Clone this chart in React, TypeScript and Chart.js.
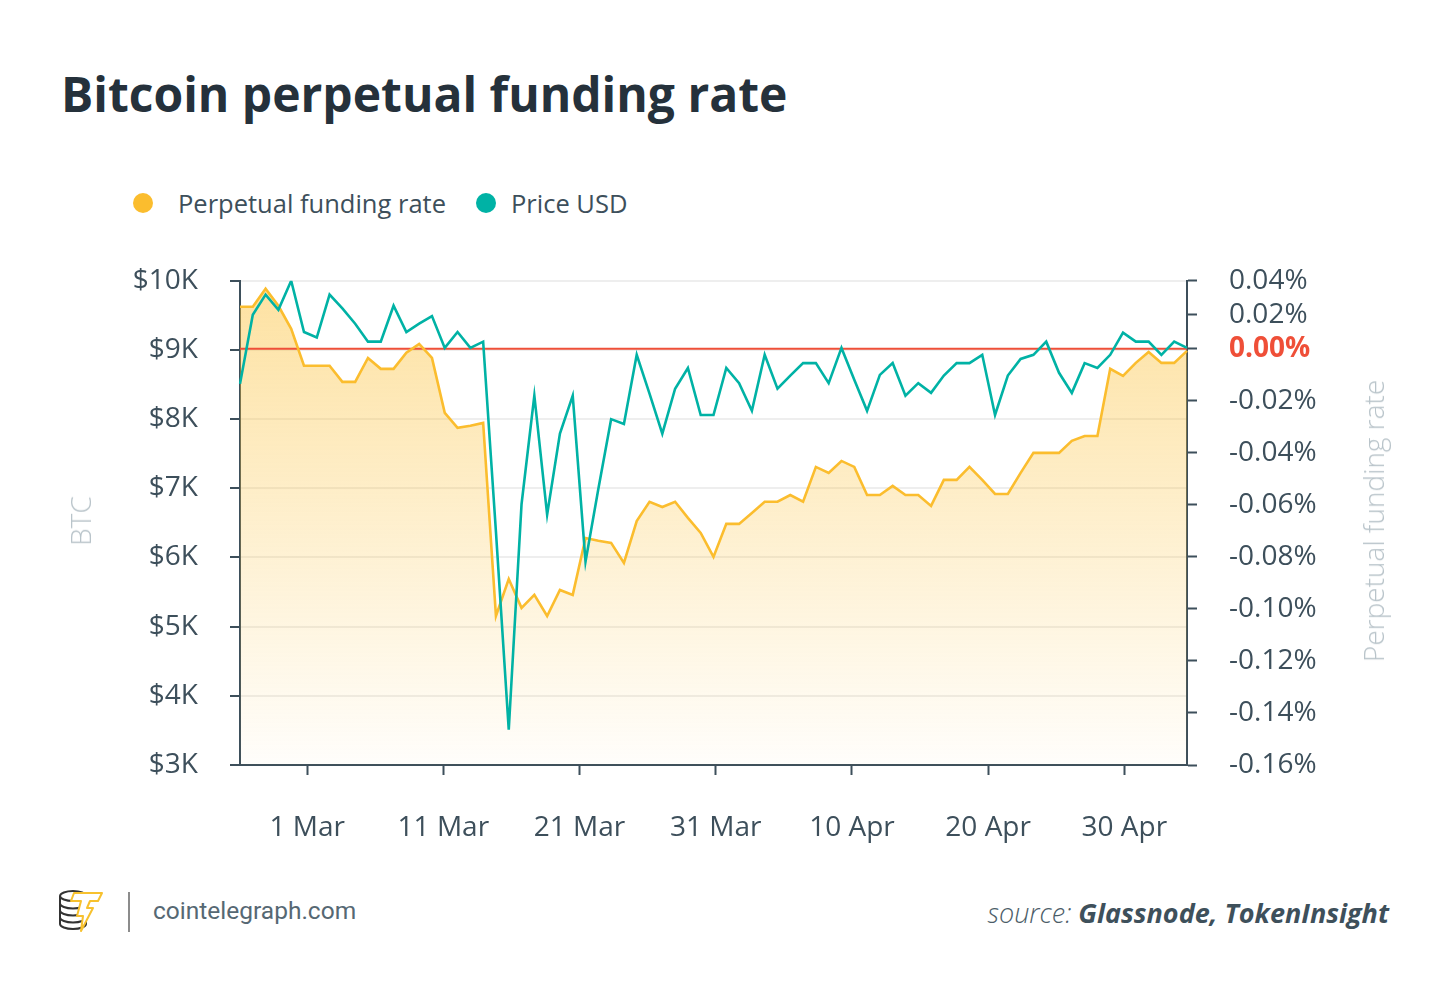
import React, { useEffect, useRef } from 'react';
import { Chart, registerables, LinearScale } from 'chart.js';

Chart.register(...registerables);

// Piecewise linear scale: positive and negative halves use their own spacing (as in the reference axis)
class SplitLinearScale extends LinearScale {
  static id = 'splitLinear';
  zeroPixel(): number {
    const frac = (this.options as any).zeroFraction ?? 0.5;
    return this.top + (this.bottom - this.top) * frac;
  }
  getPixelForValue(value: number): number {
    const z = this.zeroPixel();
    if (value >= 0) return z - (value / this.max) * (z - this.top);
    return z + (value / this.min) * (this.bottom - z);
  }
  getValueForPixel(pixel: number): number {
    const z = this.zeroPixel();
    if (pixel <= z) return ((z - pixel) / (z - this.top)) * this.max;
    return ((pixel - z) / (this.bottom - z)) * this.min;
  }
}
Chart.register(SplitLinearScale as any);

// ---------------- data ----------------
const PRICE_USD: number[] = [
  8510, 9510, 9800, 9580, 10000, 9260, 9180, 9800, 9600, 9380,
  9120, 9120, 9640, 9260, 9380, 9490, 9030, 9260, 9030, 9120,
  6370, 3510, 6770, 8340, 6620, 7790, 8340, 5940, 6990, 8000,
  7930, 8930, 8370, 7790, 8440, 8740, 8060, 8060, 8740, 8520,
  8120, 8930, 8440, 8630, 8810, 8810, 8520, 9030, 8570, 8120,
  8640, 8810, 8340, 8520, 8380, 8630, 8810, 8810, 8930, 8060,
  8630, 8870, 8930, 9120, 8670, 8380, 8810, 8740, 8930, 9250,
  9120, 9120, 8930, 9120, 9030,
];

const FUNDING_RATE_PCT: number[] = [
  0.0247, 0.0247, 0.0353, 0.0253, 0.0118, -0.0065, -0.0065, -0.0065, -0.0127, -0.0127,
  -0.0035, -0.0077, -0.0077, -0.0015, 0.0029, -0.0035, -0.0246, -0.0304, -0.0296, -0.0285,
  -0.1027, -0.0885, -0.0996, -0.0946, -0.1027, -0.0927, -0.0946, -0.0727, -0.0738, -0.0746,
  -0.0823, -0.0662, -0.0588, -0.0608, -0.0588, -0.0650, -0.0708, -0.0800, -0.0673, -0.0673,
  -0.0631, -0.0588, -0.0588, -0.0562, -0.0588, -0.0454, -0.0477, -0.0431, -0.0454, -0.0562,
  -0.0562, -0.0527, -0.0562, -0.0562, -0.0604, -0.0504, -0.0504, -0.0454, -0.0504, -0.0558,
  -0.0558, -0.0477, -0.0400, -0.0400, -0.0400, -0.0354, -0.0335, -0.0335, -0.0077, -0.0104,
  -0.0054, -0.0012, -0.0054, -0.0054, -0.0008,
];

// x-axis date ticks, in days since 1 Mar
const DATE_TICK_DAYS: number[] = [0, 10, 20, 30, 40, 50, 60];
const DATE_TICK_LABELS: string[] = ['1 Mar', '11 Mar', '21 Mar', '31 Mar', '10 Apr', '20 Apr', '30 Apr'];
const DATE_RANGE_DAYS: number[] = [-4.93, 64.6];

const PRICE_TICK_MIN = 3000;
const PRICE_TICK_MAX = 10000;
const PRICE_TICK_STEP = 1000;

const RATE_TICKS: number[] = [0.04, 0.02, 0, -0.02, -0.04, -0.06, -0.08, -0.1, -0.12, -0.14, -0.16];

// ---------------- style ----------------
const TEXT = '#3d4f5b';
const AXIS = '#3d4f5b';
const GRID = '#eeeeee';
const ORANGE = '#fbbd2e';
const TEAL = '#00b2a5';
const RED = '#ef4f38';
const AXIS_TITLE = '#b9c4ca';
const FONT = "'Open Sans', 'Noto Sans', sans-serif";
const TICK_SIZE = 28;

function Logo() {
  return (
    <svg width={48} height={48} viewBox="0 0 48 48" style={{ position: 'absolute', left: 56, top: 886 }}>
      <g fill="#ffffff" stroke="#333" strokeWidth={2}>
        <path d="M4 10 L4 38 A13 5 0 0 0 30 38 L30 10" />
        <ellipse cx={17} cy={10} rx={13} ry={5} />
        <path d="M4 17.5 A13 5 0 0 0 30 17.5" fill="none" />
        <path d="M4 24.5 A13 5 0 0 0 30 24.5" fill="none" />
        <path d="M4 31.5 A13 5 0 0 0 30 31.5" fill="none" />
      </g>
      <path
        d="M18 7 L46 7 L42 15 L34 15 L31 22 L37 22 L25 45 L27 30 L21 30 L25 15 L15 15 Z"
        fill="#ffffff"
        stroke="#f7c12e"
        strokeWidth={2}
        strokeLinejoin="round"
      />
    </svg>
  );
}

export default function App() {
  const canvasRef = useRef<HTMLCanvasElement | null>(null);

  useEffect(() => {
    if (!canvasRef.current) return;
    Chart.defaults.font.family = FONT;

    const zeroLine = {
      id: 'zeroLine',
      beforeDatasetsDraw(chart: any) {
        const { ctx, chartArea } = chart;
        const y = chart.scales.yr.getPixelForValue(0);
        ctx.save();
        ctx.strokeStyle = RED;
        ctx.lineWidth = 2;
        ctx.beginPath();
        ctx.moveTo(chartArea.left, y);
        ctx.lineTo(chartArea.right, y);
        ctx.stroke();
        ctx.restore();
      },
    };

    const chart = new Chart(canvasRef.current, {
      type: 'line',
      data: {
        labels: PRICE_USD.map((_, i) => String(i)),
        datasets: [
          {
            label: 'Price USD',
            data: PRICE_USD,
            xAxisID: 'x',
            yAxisID: 'y',
            borderColor: TEAL,
            borderWidth: 2.6,
            pointRadius: 0,
            fill: false,
            tension: 0,
            order: 0,
          },
          {
            label: 'Perpetual funding rate',
            data: FUNDING_RATE_PCT,
            xAxisID: 'x',
            yAxisID: 'yr',
            borderColor: ORANGE,
            borderWidth: 2.6,
            pointRadius: 0,
            tension: 0,
            fill: 'start',
            order: 1,
            backgroundColor: (ctx: any) => {
              const area = ctx.chart.chartArea;
              if (!area) return 'rgba(251,189,46,0.3)';
              const g = ctx.chart.ctx.createLinearGradient(0, area.top, 0, area.bottom);
              g.addColorStop(0, 'rgba(251,189,46,0.45)');
              g.addColorStop(1, 'rgba(251,189,46,0.02)');
              return g;
            },
          },
        ],
      },
      options: {
        animation: false,
        responsive: true,
        maintainAspectRatio: false,
        layout: { padding: { top: 33, left: 0, right: 0, bottom: 0 } },
        plugins: {
          legend: { display: false },
          tooltip: { enabled: false },
          filler: { drawTime: 'beforeDatasetsDraw' },
        } as any,
        scales: {
          x: { type: 'category', display: false },
          xd: {
            type: 'linear',
            position: 'bottom',
            min: DATE_RANGE_DAYS[0],
            max: DATE_RANGE_DAYS[1],
            afterBuildTicks: (a: any) => {
              a.ticks = DATE_TICK_DAYS.map((v) => ({ value: v }));
            },
            afterFit: (a: any) => {
              a.height = 87;
            },
            grid: { drawOnChartArea: false, drawTicks: true, tickLength: 10, tickWidth: 2, tickColor: AXIS },
            border: { display: true, color: AXIS, width: 2 },
            ticks: {
              autoSkip: false,
              maxRotation: 0,
              padding: 36,
              color: TEXT,
              font: { size: TICK_SIZE },
              callback: (_v: any, i: number) => DATE_TICK_LABELS[i],
            },
          },
          y: {
            type: 'linear',
            position: 'left',
            min: PRICE_TICK_MIN,
            max: PRICE_TICK_MAX,
            afterFit: (a: any) => {
              a.width = 240;
            },
            grid: { color: GRID, lineWidth: 2, tickColor: AXIS, tickLength: 10, tickWidth: 2 },
            border: { display: true, color: AXIS, width: 2 },
            ticks: {
              stepSize: PRICE_TICK_STEP,
              padding: 32,
              color: TEXT,
              font: { size: TICK_SIZE },
              callback: (v: any) => `$${Number(v) / 1000}K`,
            },
          },
          yr: {
            type: 'splitLinear',
            position: 'right',
            min: -0.16,
            max: 0.04,
            zeroFraction: 0.1405,
            afterBuildTicks: (a: any) => {
              a.ticks = RATE_TICKS.map((v) => ({ value: v }));
            },
            afterFit: (a: any) => {
              a.width = 263;
            },
            grid: { drawOnChartArea: false, drawTicks: true, tickLength: 10, tickWidth: 2, tickColor: AXIS },
            border: { display: true, color: AXIS, width: 2 },
            ticks: {
              padding: 32,
              color: (ctx: any) => (ctx.tick && ctx.tick.value === 0 ? RED : TEXT),
              font: (ctx: any) => ({ size: TICK_SIZE, weight: ctx.tick && ctx.tick.value === 0 ? 'bold' : 'normal' }),
              callback: (v: any) => `${Number(v).toFixed(2)}%`,
            },
          } as any,
        },
      },
      plugins: [zeroLine],
    } as any);

    return () => chart.destroy();
  }, []);

  return (
    <div style={{ position: 'absolute', left: 0, top: 0, width: 1450, height: 993, background: '#ffffff', fontFamily: FONT, overflow: 'hidden' }}>
      <div style={{ position: 'absolute', left: 61, top: 70, fontSize: 48, lineHeight: 1, fontWeight: 700, color: '#25313b', whiteSpace: 'nowrap' }}>
        Bitcoin perpetual funding rate
      </div>

      {/* legend */}
      <div style={{ position: 'absolute', left: 133, top: 193, width: 20, height: 20, borderRadius: 10, background: ORANGE }} />
      <div style={{ position: 'absolute', left: 178, top: 186, height: 34, lineHeight: '34px', fontSize: 25.5, color: TEXT, whiteSpace: 'nowrap' }}>
        Perpetual funding rate
      </div>
      <div style={{ position: 'absolute', left: 476, top: 193, width: 20, height: 20, borderRadius: 10, background: TEAL }} />
      <div style={{ position: 'absolute', left: 511, top: 186, height: 34, lineHeight: '34px', fontSize: 25.5, color: TEXT, whiteSpace: 'nowrap' }}>
        Price USD
      </div>

      {/* chart */}
      <div style={{ position: 'absolute', left: 0, top: 232, width: 1450, height: 620 }}>
        <canvas ref={canvasRef} />
      </div>

      {/* axis titles */}
      <div style={{ position: 'absolute', left: 80, top: 521, transform: 'translate(-50%, -50%) rotate(-90deg)', fontSize: 28, fontWeight: 300, color: AXIS_TITLE, whiteSpace: 'nowrap', lineHeight: 1 }}>
        BTC
      </div>
      <div style={{ position: 'absolute', left: 1373, top: 521, transform: 'translate(-50%, -50%) rotate(-90deg)', fontSize: 28, fontWeight: 300, color: AXIS_TITLE, whiteSpace: 'nowrap', lineHeight: 1 }}>
        Perpetual funding rate
      </div>

      {/* footer */}
      <Logo />
      <div style={{ position: 'absolute', left: 128, top: 892, width: 2, height: 40, background: '#8c8c8c' }} />
      <div style={{ position: 'absolute', left: 153, top: 895, height: 32, lineHeight: '32px', fontSize: 24.5, fontFamily: 'Roboto, sans-serif', color: '#566873', whiteSpace: 'nowrap' }}>
        cointelegraph.com
      </div>
      <div style={{ position: 'absolute', right: 1450 - 1389, top: 896, height: 34, lineHeight: '34px', fontSize: 27, fontStyle: 'italic', whiteSpace: 'nowrap', color: '#3e505b' }}>
        <span style={{ fontWeight: 300, color: '#4c5d68' }}>source: </span>
        <span style={{ fontWeight: 700 }}>Glassnode, TokenInsight</span>
      </div>
    </div>
  );
}
